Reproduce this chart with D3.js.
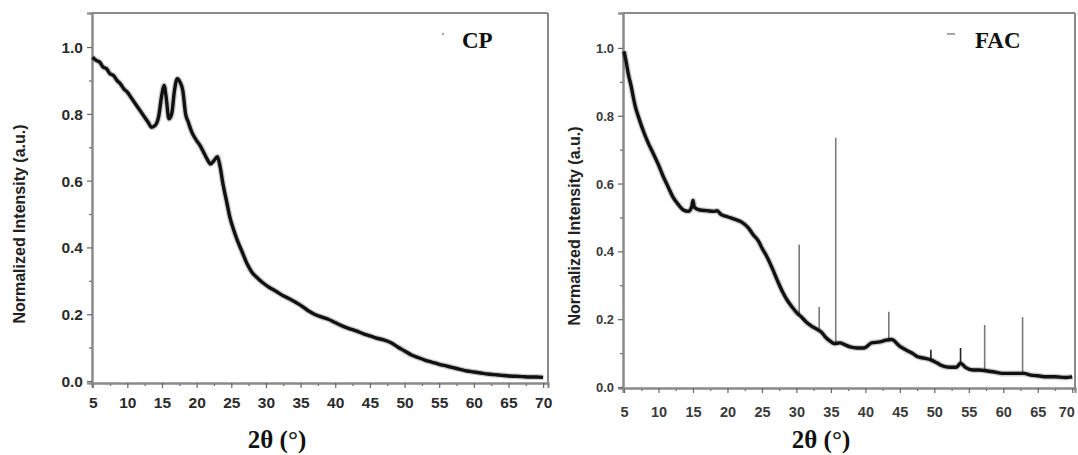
<!DOCTYPE html>
<html><head><meta charset="utf-8">
<script src="https://cdn.jsdelivr.net/npm/d3@7"></script>
<style>body{margin:0;background:#fff}svg{display:block}</style>
</head><body>
<svg id="c" width="1078" height="455"></svg>
<script>
// ---- data ----
const cpX = [5.0,5.5,6.0,6.5,7.0,7.5,8.0,8.5,9.0,9.5,10.0,10.5,11.0,11.5,12.0,12.5,13.0,13.5,14.0,14.5,15.0,15.3,15.6,16.0,16.4,16.8,17.2,17.6,18.0,18.4,18.8,19.3,20.0,20.5,21.0,21.5,22.0,22.5,23.0,23.4,23.8,24.3,24.8,25.3,25.8,26.5,27.3,28.0,28.7,29.5,30.5,31.5,32.5,33.5,34.9,36.0,37.0,38.0,39.0,40.0,41.0,42.0,43.0,44.0,45.0,46.0,47.0,48.0,49.0,50.0,51.0,52.0,53.0,54.0,55.0,56.0,57.0,58.0,59.0,60.0,61.0,62.0,63.0,64.0,65.0,66.0,67.0,68.0,69.0,70.0];
const cpY = [0.97,0.96,0.955,0.94,0.935,0.92,0.915,0.90,0.89,0.875,0.865,0.85,0.835,0.82,0.805,0.79,0.775,0.76,0.765,0.79,0.86,0.885,0.85,0.785,0.80,0.87,0.905,0.895,0.87,0.80,0.775,0.745,0.72,0.705,0.685,0.665,0.65,0.66,0.672,0.64,0.59,0.54,0.49,0.455,0.425,0.39,0.35,0.325,0.31,0.295,0.28,0.268,0.255,0.245,0.228,0.212,0.20,0.192,0.185,0.175,0.165,0.157,0.15,0.142,0.135,0.128,0.123,0.115,0.102,0.09,0.078,0.07,0.062,0.056,0.05,0.045,0.04,0.035,0.03,0.027,0.024,0.021,0.019,0.017,0.015,0.014,0.013,0.012,0.012,0.011];

const facX = [5.0,5.3,5.6,6.0,6.6,7.2,7.8,8.5,9.2,10.0,10.7,11.4,12.1,12.8,13.6,14.3,14.8,15.0,15.2,16.0,17.0,18.0,18.5,19.0,20.0,21.0,22.0,23.0,23.7,24.5,25.0,25.7,26.5,27.2,28.0,28.6,29.4,30.1,30.8,31.5,32.3,33.0,33.6,34.3,34.9,35.5,36.3,37.0,37.8,38.8,39.8,40.9,42.1,43.0,43.8,45.0,46.0,47.0,47.5,48.5,49.5,50.3,51.2,52.2,53.2,53.8,54.5,55.6,56.5,57.5,58.5,59.9,61.0,62.0,63.0,64.0,65.0,66.3,67.5,69.0,70.0];
const facY = [0.99,0.96,0.925,0.89,0.83,0.79,0.755,0.72,0.69,0.655,0.62,0.59,0.56,0.54,0.522,0.518,0.53,0.55,0.53,0.522,0.52,0.518,0.52,0.51,0.502,0.495,0.487,0.47,0.45,0.43,0.41,0.385,0.35,0.316,0.28,0.258,0.235,0.218,0.205,0.19,0.178,0.17,0.162,0.145,0.135,0.128,0.13,0.125,0.118,0.115,0.115,0.13,0.133,0.138,0.14,0.12,0.108,0.097,0.09,0.085,0.08,0.072,0.062,0.058,0.058,0.07,0.058,0.05,0.05,0.048,0.045,0.04,0.04,0.04,0.04,0.035,0.033,0.03,0.03,0.028,0.03];

const facPeakX    = [30.4, 33.3, 35.7, 43.4, 49.5, 53.8, 57.3, 62.8];
const facPeakBase = [0.215, 0.168, 0.128, 0.139, 0.08, 0.065, 0.048, 0.04];
const facPeakTop  = [0.42, 0.236, 0.735, 0.222, 0.11, 0.115, 0.183, 0.206];

const xTicks = [5,10,15,20,25,30,35,40,45,50,55,60,65,70];
const xMinor = [7.5,12.5,17.5,22.5,27.5,32.5,37.5,42.5,47.5,52.5,57.5,62.5,67.5];
const yTicks = [0.0,0.2,0.4,0.6,0.8,1.0];
const yMinor = [0.1,0.3,0.5,0.7,0.9];

const svg = d3.select("#c");
const SANS = "Liberation Sans, Arial, sans-serif";
const SERIF = "Liberation Serif, Times New Roman, serif";

function panel(o){
  const x = d3.scaleLinear().domain(o.xd).range(o.xr);
  const y = d3.scaleLinear().domain(o.yd).range(o.yr);
  const g = svg.append("g");
  g.append("line").attr("x1",o.xr[0]).attr("x2",o.xr[1]).attr("y1",o.yr[1]).attr("y2",o.yr[1]).attr("stroke","#8a8a8a").attr("stroke-width",2);
  g.append("line").attr("x1",o.xr[1]).attr("x2",o.xr[1]).attr("y1",o.yr[1]).attr("y2",o.yr[0]).attr("stroke","#8a8a8a").attr("stroke-width",2);
  const ax = g.append("g").attr("transform",`translate(0,${o.yr[0]})`)
    .call(d3.axisBottom(x).tickValues(xMinor).tickSize(3).tickFormat(""));
  const axM = g.append("g").attr("transform",`translate(0,${o.yr[0]})`)
    .call(d3.axisBottom(x).tickValues(xTicks).tickSize(5).tickPadding(o.xpad).tickFormat(d3.format("d")));
  const ay = g.append("g").attr("transform",`translate(${o.xr[0]},0)`)
    .call(d3.axisLeft(y).tickValues(yMinor).tickSize(3).tickFormat(""));
  const ayM = g.append("g").attr("transform",`translate(${o.xr[0]},0)`)
    .call(d3.axisLeft(y).tickValues(yTicks).tickSize(5).tickPadding(4).tickFormat(d3.format(".1f")));
  [ax,axM,ay,ayM].forEach(a=>{
    a.select(".domain").attr("stroke","#8a8a8a").attr("stroke-width",2);
    a.selectAll(".tick line").attr("stroke","#666").attr("stroke-width",1.2);
    a.selectAll("text").attr("fill",o.tc).attr("font-family",SANS).attr("font-weight","bold");
  });
  axM.selectAll("text").attr("font-size",o.fx);
  ayM.selectAll("text").attr("font-size",o.fy).attr("dy","0.35em");
  if(o.lastEnd){
    axM.selectAll(".tick").filter(d=>d===70).select("text").attr("text-anchor","end").attr("dx","0.15em");
  }
  if(o.peaks){
    o.peaks.x.forEach((px,i)=>{
      g.append("line").attr("x1",x(px)).attr("x2",x(px))
       .attr("y1",y(o.peaks.base[i])).attr("y2",y(o.peaks.top[i]))
       .attr("stroke",i===4||i===5?"#222":"#7a7a7a").attr("stroke-width",1.6);
    });
  }
  const data = o.xs.map((v,i)=>[v,o.ys[i]]);
  const line = d3.line().x(d=>x(d[0])).y(d=>y(d[1])).curve(d3.curveMonotoneX);
  g.append("path").datum(data).attr("d",line).attr("fill","none").attr("stroke","#000").attr("stroke-opacity",0.2).attr("stroke-width",6).attr("stroke-linejoin","round");
  g.append("path").datum(data).attr("d",line).attr("fill","none").attr("stroke","#111").attr("stroke-width",3.4).attr("stroke-linejoin","round");
  g.append("text").attr("transform",`translate(${o.ytx},${o.yty}) rotate(-90)`)
    .attr("text-anchor","middle").attr("font-family",SANS).attr("font-weight","bold")
    .attr("font-size",16).attr("fill","#222").text("Normalized Intensity (a.u.)");
  g.append("text").attr("x",o.xtx).attr("y",448).attr("text-anchor","middle")
    .attr("font-family",SERIF).attr("font-weight","bold").attr("font-size",25).attr("fill","#111").text("2θ (°)");
  g.append("text").attr("x",o.lx).attr("y",48).attr("font-family",SERIF)
    .attr("font-weight","bold").attr("font-size",o.lfs).attr("fill","#111").text(o.name);
  g.append("line").attr("x1",o.lx-o.lw-o.lgap).attr("x2",o.lx-o.lgap).attr("y1",34).attr("y2",34).attr("stroke","#888").attr("stroke-width",1.5);
}

panel({xd:[4.9,70.7], xr:[92,548], yd:[-0.006,1.102], yr:[383,13], xs:cpX, ys:cpY, fx:15.5, fy:15.5, xpad:9, tc:"#2a2a2a",
  ytx:25, yty:224, xtx:277, lx:462, lw:2, lgap:18, lfs:23, name:"CP"});
panel({xd:[4.85,70.4], xr:[623,1075], yd:[-0.003,1.103], yr:[388,13], xs:facX, ys:facY, fx:14.5, fy:13, xpad:14, tc:"#3a3a3a",
  peaks:{x:facPeakX, base:facPeakBase, top:facPeakTop}, lastEnd:true,
  ytx:580, yty:226, xtx:821, lx:975, lw:8, lgap:20, lfs:23, name:"FAC"});
</script>
</body></html>
